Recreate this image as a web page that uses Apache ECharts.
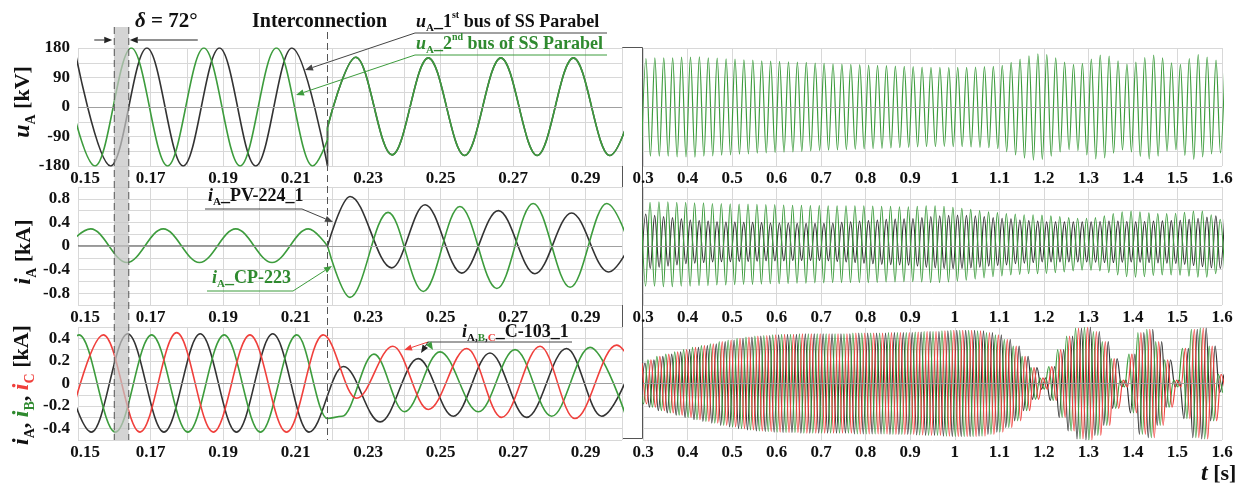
<!DOCTYPE html>
<html>
<head>
<meta charset="utf-8">
<title>Parabel substation interconnection transients</title>
<script src="https://cdn.jsdelivr.net/npm/echarts@6/dist/echarts.min.js"></script>
<style>
  html, body { margin: 0; padding: 0; background: #ffffff; }
  #chart { width: 1248px; height: 485px; }
</style>
</head>
<body>
<div id="chart"></div>
<script>
// ---------------- readings ----------------
const PERIOD = 0.02;                 // 50 Hz network
const tInterconnect = 0.2188;        // breaker closing instant, s
const tShiftFrom = 0.16, tShiftTo = 0.164;   // 72 deg between the two buses

// tick labels
const leftTimeLabels  = ['0.15', '0.17', '0.19', '0.21', '0.23', '0.25', '0.27', '0.29'];
const rightTimeLabels = ['0.3', '0.4', '0.5', '0.6', '0.7', '0.8', '0.9', '1', '1.1', '1.2', '1.3', '1.4', '1.5', '1.6'];
const uTickLabels   = ['-180', '-90', '0', '90', '180'];
const iTickLabels   = ['-0.8', '-0.4', '0', '0.4', '0.8'];
const iAbcTickLabels = ['-0.4', '-0.2', '0', '0.2', '0.4'];

// --- phase-A voltage, kV: extremes [t, u] around the interconnection ---
const uBus1Before = [[0.1490,180],[0.1590,-180],[0.1690,180],[0.1790,-180],[0.1890,180],[0.1990,-180],[0.2090,180],[0.2188,-179]];
const uBus2Before = [[0.1447,180],[0.1547,-180],[0.1647,180],[0.1747,-180],[0.1847,180],[0.1947,-180],[0.2047,180],[0.2147,-180],[0.2188,-100]];
const uBus1Step = [[0.2188,-179],[0.2188,-62]];
const uBus2Step = [[0.2188,-100],[0.2188,-62]];
const uBusAfter = [[0.2188,-62],[0.2266,152],[0.2366,-146],[0.2466,150],[0.2566,-148],[0.2666,150],[0.2766,-148],[0.2866,150],[0.2966,-148],[0.3066,150]];

// --- phase-A currents of PV-224_1 and CP-223, kA ---
const iPvBefore = [[0.15,-0.005],[0.2188,-0.005]];
const iPvAfter  = [[0.2188,0.0],[0.2250,0.84],[0.2365,-0.37],[0.2457,0.70],[0.2558,-0.46],[0.2659,0.60],[0.2760,-0.47],[0.2861,0.56],[0.2962,-0.44],[0.3062,0.55]];
const iCpBefore = [[0.1435,-0.28],[0.1535,0.29],[0.1635,-0.28],[0.1735,0.29],[0.1835,-0.28],[0.1935,0.29],[0.2035,-0.28],[0.2135,0.29],[0.2188,0.0]];
const iCpAfter  = [[0.2188,0.0],[0.2250,-0.87],[0.2355,0.57],[0.2452,-0.77],[0.2553,0.67],[0.2655,-0.72],[0.2755,0.72],[0.2857,-0.70],[0.2958,0.72],[0.3058,-0.70]];

// --- three-phase currents of C-103_1, kA ---
const iaC103 = [[0.1437,0.43],[0.1537,-0.43],[0.1637,0.44],[0.1737,-0.43],[0.1837,0.44],[0.1937,-0.43],[0.2037,0.44],[0.2137,-0.43],[0.2232,0.15],[0.2333,-0.34],[0.2438,0.22],[0.2535,-0.29],[0.2636,0.27],[0.2737,-0.30],[0.2847,0.31],[0.2944,-0.29],[0.3045,0.30]];
const ibC103 = [[0.1403,-0.43],[0.1503,0.43],[0.1603,-0.43],[0.1703,0.43],[0.1803,-0.43],[0.1903,0.43],[0.2003,-0.43],[0.2103,0.43],[0.2188,-0.31],[0.2228,-0.29],[0.2316,0.26],[0.2400,-0.25],[0.2498,0.28],[0.2604,-0.25],[0.2705,0.30],[0.2806,-0.29],[0.2912,0.32],[0.3012,-0.30]];
const icC103 = [[0.1470,-0.43],[0.1570,0.43],[0.1671,-0.43],[0.1772,0.45],[0.1873,-0.43],[0.1974,0.43],[0.2075,-0.43],[0.2176,0.43],[0.2268,-0.13],[0.2368,0.33],[0.2466,-0.23],[0.2572,0.31],[0.2668,-0.30],[0.2774,0.33],[0.2870,-0.31],[0.2985,0.34],[0.3085,-0.30]];

// --- 0.3 ... 1.6 s: peak value of every cycle (one entry per 20 ms, from 0.30 s) ---
const uAmpLate = [
  148,150,150,150,152,152,153,150,149,147,
  146,144,143,141,140,139,138,137,136,134,
  133,132,131,130,129,128,127,126,125,124,
  123,122,121,121,120,121,121,122,123,124,
  127,136,146,156,162,160,150,137,130,133,
  146,158,155,141,131,137,151,158,150,135,
  130,148,160,152,143,140];
const iCpAmpLate = [
  .71,.71,.72,.72,.71,.71,.70,.70,.69,.69,
  .685,.68,.68,.675,.67,.67,.665,.66,.66,.655,
  .655,.65,.65,.65,.65,.65,.645,.64,.64,.635,
  .635,.64,.65,.65,.64,.625,.61,.59,.57,.55,
  .535,.52,.51,.50,.50,.495,.48,.47,.45,.44,
  .44,.45,.48,.52,.55,.56,.55,.53,.52,.52,
  .525,.54,.56,.56,.50,.42];
const iPvAmpLate = [
  .47,.45,.43,.41,.39,.37,.36,.35,.34,.335,
  .335,.33,.33,.325,.32,.32,.32,.315,.315,.315,
  .315,.32,.33,.34,.35,.36,.37,.38,.385,.39,
  .395,.41,.43,.44,.45,.455,.45,.44,.43,.41,
  .40,.39,.37,.36,.35,.34,.34,.34,.34,.34,
  .34,.345,.35,.35,.345,.34,.345,.35,.355,.36,
  .365,.38,.40,.42,.44,.45];
const iCpBias = 0.03, iPvBias = 0.07;
const iC103AmpLate = [
  .18,.21,.24,.26,.28,.30,.32,.335,.35,.37,
  .385,.40,.41,.42,.425,.43,.435,.435,.44,.44,
  .44,.44,.44,.44,.445,.445,.445,.445,.45,.45,
  .45,.455,.46,.46,.465,.47,.47,.47,.465,.45,
  .43,.39,.33,.24,.14,.05,.15,.30,.42,.49,
  .50,.46,.37,.22,.03,.26,.45,.48,.37,.21,
  .03,.31,.48,.49,.33,.08];

// ---------------- helpers ----------------
const FONT = '"Liberation Serif", "Times New Roman", serif';
const BLACK = '#333333', GREEN = '#3d9c3d', RED = '#f0403c', TXT = '#111111', GREEN_TXT = '#2f8a2f';

// successive half-cycle extremes of one waveform, starting from the first extreme
function cycleExtremes(tFirst, sign, amps, bias) {
  const pts = [];
  amps.forEach((a, k) => {
    const t = tFirst + k * PERIOD;
    pts.push([+t.toFixed(4), bias + sign * a]);
    pts.push([+(t + PERIOD / 2).toFixed(4), bias - sign * a]);
  });
  return pts;
}

function wave(gi, data, color, width, smooth) {
  return {
    type: 'line', xAxisIndex: gi, yAxisIndex: gi, data: data,
    showSymbol: false, symbol: 'none',
    smooth: smooth === false ? false : 0.36, smoothMonotone: 'x',
    lineStyle: { color: color, width: width }, itemStyle: { color: color },
    silent: true, animation: false, clip: true
  };
}
function withZeroLine(s) {
  s.markLine = {
    silent: true, symbol: ['none', 'none'], label: { show: false },
    lineStyle: { color: '#a0a0a0', width: 1, type: 'solid' },
    data: [{ yAxis: 0 }], animation: false
  };
  return s;
}

const tickFont = { fontFamily: FONT, fontWeight: 'bold', fontSize: 17, color: TXT };
const gridLine = { show: true, lineStyle: { color: '#d8d8d8', width: 1 } };
const fmt1 = v => String(+(+v).toFixed(1));
const fmt2 = v => (+v).toFixed(2);

function timeAxis(gi, left) {
  return {
    type: 'value', gridIndex: gi,
    min: left ? 0.15 : 0.3, max: left ? 0.30 : 1.6, interval: left ? 0.01 : 0.1,
    axisLine: { show: false }, axisTick: { show: false }, splitLine: gridLine,
    axisLabel: Object.assign({}, tickFont, {
      margin: 4, showMinLabel: true, showMaxLabel: true,
      formatter: left
        ? (v, idx) => { const s = fmt2(v); return leftTimeLabels.includes(s) ? (idx === 0 ? '{first|' + s + '}' : s) : ''; }
        : v => { const s = fmt1(v); return rightTimeLabels.includes(s) ? s : ''; },
      rich: { first: Object.assign({}, tickFont, { padding: [0, 0, 0, 14] }) }
    })
  };
}
function valueAxis(gi, min, max, interval, labels, showLabels, fmt) {
  return {
    type: 'value', gridIndex: gi, min: min, max: max, interval: interval,
    axisLine: { show: false }, axisTick: { show: false }, splitLine: gridLine,
    axisLabel: Object.assign({}, tickFont, {
      show: showLabels, margin: 8, showMinLabel: true, showMaxLabel: true,
      formatter: v => { const s = fmt(v); return labels.includes(s) ? s : ''; }
    })
  };
}
const fmtInt = v => String(Math.round(v));

// ---------------- chart ----------------
const chart = echarts.init(document.getElementById('chart'), null, { renderer: 'canvas', width: 1248, height: 485 });

const rows = [{ top: 48, height: 118 }, { top: 187, height: 118 }, { top: 327, height: 113 }];
const grids = [];
rows.forEach(r => grids.push({ left: 78, width: 544, top: r.top, height: r.height }));
rows.forEach(r => grids.push({ left: 643, width: 579, top: r.top, height: r.height }));

const xAxes = [0, 1, 2].map(i => timeAxis(i, true)).concat([3, 4, 5].map(i => timeAxis(i, false)));
const yAxes = [
  valueAxis(0, -180, 180, 45, uTickLabels, true, fmtInt),
  valueAxis(1, -1, 1, 0.2, iTickLabels, true, fmt1),
  valueAxis(2, -0.5, 0.5, 0.1, iAbcTickLabels, true, fmt1),
  valueAxis(3, -180, 180, 45, uTickLabels, false, fmtInt),
  valueAxis(4, -1, 1, 0.2, iTickLabels, false, fmt1),
  valueAxis(5, -0.5, 0.5, 0.1, iAbcTickLabels, false, fmt1)
];

const LW = 1.6, LWR = 1.2;
const series = [
  // voltage, 0.15-0.30 s
  withZeroLine(wave(0, uBus1Before, BLACK, LW)),
  wave(0, uBus1Step, BLACK, LW, false),
  wave(0, uBusAfter, BLACK, LW),
  wave(0, uBus2Before, GREEN, LW),
  wave(0, uBus2Step, GREEN, LW, false),
  wave(0, uBusAfter, GREEN, LW),
  // phase-A currents
  withZeroLine(wave(1, iPvBefore, BLACK, LW, false)),
  wave(1, iPvAfter, BLACK, LW),
  wave(1, iCpBefore, GREEN, LW),
  wave(1, iCpAfter, GREEN, LW),
  // three-phase currents
  withZeroLine(wave(2, iaC103, BLACK, LW)),
  wave(2, ibC103, GREEN, LW),
  wave(2, icC103, RED, LW),
  // 0.3-1.6 s
  withZeroLine(wave(3, cycleExtremes(0.2966, -1, uAmpLate, 0), GREEN, LWR)),
  withZeroLine(wave(4, cycleExtremes(0.2962, -1, iPvAmpLate, iPvBias), BLACK, LWR)),
  wave(4, cycleExtremes(0.2958, 1, iCpAmpLate, iCpBias), GREEN, LWR),
  withZeroLine(wave(5, cycleExtremes(0.2945, -1, iC103AmpLate, 0), BLACK, LWR)),
  wave(5, cycleExtremes(0.2912, 1, iC103AmpLate, 0), GREEN, LWR),
  wave(5, cycleExtremes(0.2979, 1, iC103AmpLate, 0), RED, LWR)
];

chart.setOption({
  backgroundColor: '#ffffff',
  animation: false,
  grid: grids,
  xAxis: xAxes,
  yAxis: yAxes,
  series: series
});

// ---------------- annotations ----------------
function arrow(x1, y1, x2, y2, color, width) {
  const a = Math.atan2(y2 - y1, x2 - x1), L = 8, W = 3.2;
  const bx = x2 - L * Math.cos(a), by = y2 - L * Math.sin(a);
  return [
    { type: 'line', z: 120, silent: true, shape: { x1: x1, y1: y1, x2: bx, y2: by }, style: { stroke: color, lineWidth: width || 1 } },
    { type: 'polygon', z: 120, silent: true,
      shape: { points: [[x2, y2], [bx + W * Math.sin(a), by - W * Math.cos(a)], [bx - W * Math.sin(a), by + W * Math.cos(a)]] },
      style: { fill: color } }
  ];
}
function polyline(points, color) {
  return { type: 'polyline', z: 120, silent: true, shape: { points: points }, style: { stroke: color, lineWidth: 1, fill: null } };
}
function rich(size, color, extra) {
  return Object.assign({ fontFamily: FONT, fontWeight: 'bold', fontSize: size, fill: color, lineHeight: Math.round(size * 1.25) }, extra || {});
}
function sub(size, color) { return rich(size, color, { verticalAlign: 'bottom', lineHeight: size }); }
function sup(size, color) { return rich(size, color, { verticalAlign: 'top', lineHeight: size }); }
function label(x, y, text, richStyles) {
  return {
    type: 'text', x: x, y: y, z: 130, silent: true,
    style: { text: text, rich: richStyles, align: 'left', verticalAlign: 'middle' }
  };
}
function vTitle(x, y, text, richStyles) {
  return {
    type: 'text', x: x, y: y, z: 130, silent: true, rotation: Math.PI / 2,
    style: { text: text, rich: richStyles, align: 'center', verticalAlign: 'middle' }
  };
}

const px = t => chart.convertToPixel({ gridIndex: 0 }, [t, 0])[0];
const xs0 = px(tShiftFrom), xs1 = px(tShiftTo), xi = px(tInterconnect);
const bandTop = 27, bandBottom = 440;

const gfx = [];
// separator between the two time windows
gfx.push({ type: 'rect', z: -1, silent: true, shape: { x: 622.5, y: 47.5, width: 20, height: 391 }, style: { fill: '#ffffff', stroke: '#555555', lineWidth: 1 } });
// 72 deg window and interconnection instant
gfx.push({ type: 'rect', z: 110, silent: true, shape: { x: xs0, y: bandTop, width: xs1 - xs0, height: bandBottom - bandTop }, style: { fill: 'rgba(196,196,196,0.72)' } });
[xs0, xs1].forEach(x => gfx.push({ type: 'line', z: 111, silent: true, shape: { x1: x, y1: bandTop, x2: x, y2: bandBottom }, style: { stroke: '#555555', lineWidth: 1, lineDash: [7, 4] } }));
gfx.push({ type: 'line', z: 111, silent: true, shape: { x1: xi, y1: 32, x2: xi, y2: bandBottom }, style: { stroke: '#555555', lineWidth: 1, lineDash: [7, 4] } });
gfx.push(...arrow(xs0 - 20, 40, xs0 - 2, 40, '#222', 1));
gfx.push(...arrow(xs1 + 69, 40, xs1 + 1, 40, '#222', 1));

// headings
gfx.push(label(135, 22, '{d|δ}{n| = 72°}', { d: rich(21, TXT, { fontStyle: 'italic' }), n: rich(21, TXT) }));
gfx.push(label(252, 22, '{n|Interconnection}', { n: rich(20, TXT) }));

// voltage legend
gfx.push(label(416, 22, '{i|u}{s|A}{n|_1}{p|st}{n| bus of SS Parabel}',
  { i: rich(18, TXT, { fontStyle: 'italic' }), s: sub(11, TXT), n: rich(18, TXT), p: sup(10, TXT) }));
gfx.push(label(416, 44, '{i|u}{s|A}{n|_2}{p|nd}{n| bus of SS Parabel}',
  { i: rich(18, GREEN_TXT, { fontStyle: 'italic' }), s: sub(11, GREEN_TXT), n: rich(18, GREEN_TXT), p: sup(10, GREEN_TXT) }));
gfx.push(polyline([[607, 33], [415, 33]], '#444'));
gfx.push(...arrow(415, 33, 305, 70, '#444', 1));
gfx.push(polyline([[607, 55], [415, 55]], GREEN));
gfx.push(...arrow(415, 55, 296, 95, GREEN, 1));

// phase-A current legend
gfx.push(label(208, 196, '{i|i}{s|A}{n|_PV-224_1}', { i: rich(18, TXT, { fontStyle: 'italic' }), s: sub(11, TXT), n: rich(18, TXT) }));
gfx.push(polyline([[205, 209], [302, 209]], '#444'));
gfx.push(...arrow(302, 209, 333, 222, '#444', 1));
gfx.push(label(212, 278, '{i|i}{s|A}{n|_CP-223}', { i: rich(18, GREEN_TXT, { fontStyle: 'italic' }), s: sub(11, GREEN_TXT), n: rich(18, GREEN_TXT) }));
gfx.push(polyline([[207, 291], [293, 291]], GREEN));
gfx.push(...arrow(293, 291, 332, 266, GREEN, 1));

// three-phase current legend
gfx.push(label(462, 332, '{i|i}{a|A}{k|,}{b|B}{k|,}{c|C}{n|_C-103_1}', {
  i: rich(18, TXT, { fontStyle: 'italic' }), a: sub(11, TXT), k: sub(11, TXT), b: sub(11, GREEN_TXT), c: sub(11, RED), n: rich(18, TXT)
}));
gfx.push(polyline([[572, 342], [428, 342]], '#444'));
gfx.push(...arrow(428, 342, 404, 350, RED, 1));
gfx.push(...arrow(428, 342, 421, 353, '#222', 1));
gfx.push(...arrow(428, 342, 433, 350, GREEN, 1));

// axis titles
gfx.push(vTitle(23, 102, '{i|u}{s|A}{n| [kV]}',
  { i: rich(24, TXT, { fontStyle: 'italic' }), s: sub(14, TXT), n: rich(22, TXT) }));
gfx.push(vTitle(24, 252, '{i|i}{s|A}{n| [kA]}',
  { i: rich(24, TXT, { fontStyle: 'italic' }), s: sub(14, TXT), n: rich(22, TXT) }));
gfx.push(vTitle(22, 385, '{ia|i}{sa|A}{k|, }{ib|i}{sb|B}{k|, }{ic|i}{sc|C}{n| [kA]}', {
  ia: rich(24, TXT, { fontStyle: 'italic' }), sa: sub(14, TXT),
  ib: rich(24, GREEN_TXT, { fontStyle: 'italic' }), sb: sub(14, GREEN_TXT),
  ic: rich(24, RED, { fontStyle: 'italic' }), sc: sub(14, RED),
  k: rich(22, TXT), n: rich(22, TXT)
}));
gfx.push(label(1201, 474, '{i|t}{n| [s]}', { i: rich(24, TXT, { fontStyle: 'italic' }), n: rich(22, TXT) }));

chart.setOption({ graphic: gfx });
</script>
</body>
</html>
